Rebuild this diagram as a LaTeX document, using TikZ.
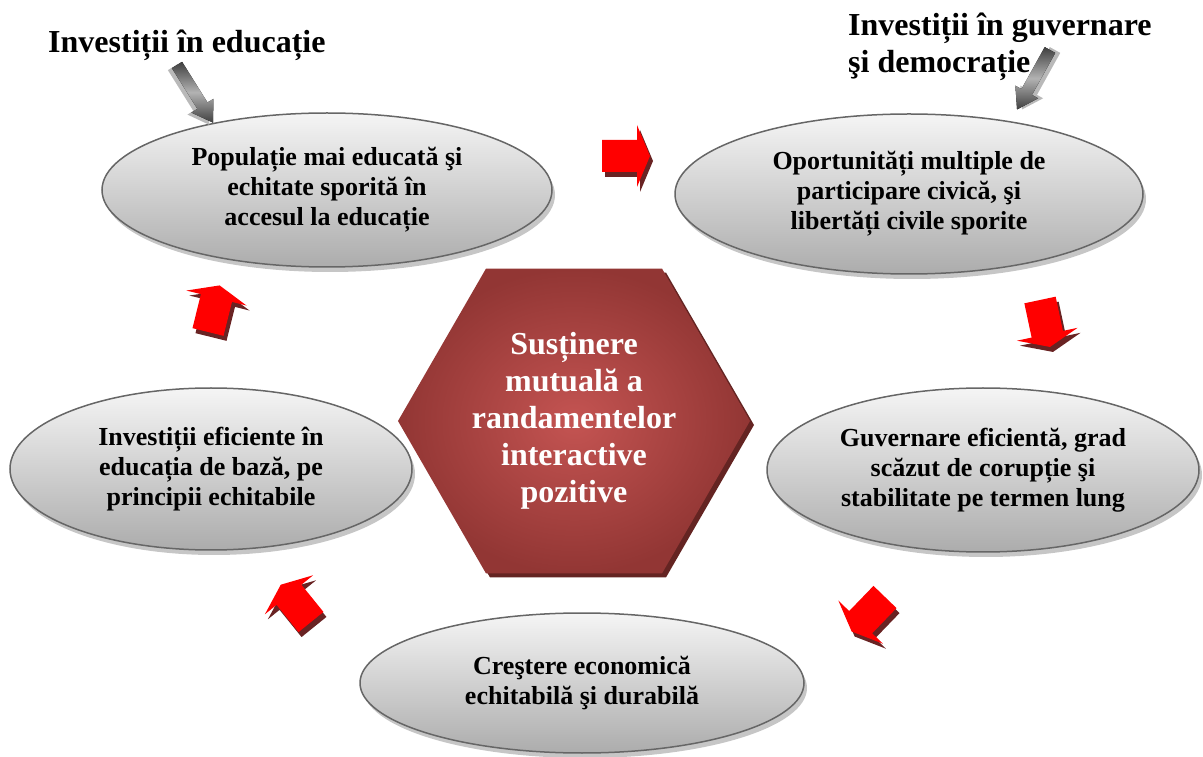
\documentclass[tikz,border=0pt]{standalone}
\usepackage{fontspec}
\setmainfont{Liberation Serif}
\usetikzlibrary{positioning,shapes,shapes.geometric,shadows}

\definecolor{arrowred}{RGB}{255,0,0}
\definecolor{redshadow}{RGB}{105,35,35}
\definecolor{hexinner}{RGB}{196,84,82}
\definecolor{hexouter}{RGB}{146,54,52}
\definecolor{hexshadow}{RGB}{100,36,34}

\tikzset{
ovalnode/.style={ellipse, draw=black!60, line width=1.5pt, top color=gray!8, bottom color=gray!65,
                 inner sep=0pt, align=center, font=\fontsize{26}{30}\selectfont\bfseries,
                 drop shadow={shadow xshift=3pt, shadow yshift=-5pt, fill=gray!45, opacity=1}},
hexnode/.style={regular polygon, regular polygon sides=6, minimum size=352pt, inner sep=0pt,
                inner color=hexinner, outer color=hexouter, text=white, align=center,
                font=\fontsize{32}{37}\selectfont\bfseries,
                drop shadow={shadow xshift=4pt, shadow yshift=-4pt, fill=hexshadow, opacity=1}},
titlenode/.style={inner sep=0pt, align=left, anchor=west, font=\fontsize{32}{37}\selectfont\bfseries},
greyshade/.style={top color=black!75, bottom color=black!75, middle color=gray!60},
greyside/.style={fill=gray!55},
blockarrow/.pic={\fill[#1] (0,-16) -- (35,-16) -- (35,-31) -- (48,0) -- (35,31) -- (35,16) -- (0,16) -- cycle;},
greyarrow/.pic={\fill[#1] (0,-6) -- (48,-6) -- (48,-13) -- (68,0) -- (48,13) -- (48,6) -- (0,6) -- cycle;}
}

\begin{document}
\begin{tikzpicture}[x=1pt, y=1pt]
\useasboundingbox (0,0) rectangle (1203,756);

%Title nodes
\node[titlenode] (eduTitle) at (48,711) {Investiții în educație};
\node[titlenode] (govTitle) at (848,709) {Investiții în guvernare\\şi democrație};

%Central hexagon
\node[hexnode] (core) at (574,335) {Susținere\\mutuală a\\randamentelor\\interactive\\pozitive};

%Cycle nodes
\node[ovalnode, minimum width=450pt, minimum height=154pt] (educated) at (327,566) {Populație mai educată şi\\echitate sporită în\\accesul la educație};
\node[ovalnode, minimum width=468pt, minimum height=160pt] (civic) at (909,562) {Oportunități multiple de\\participare civică, şi\\libertăți civile sporite};
\node[ovalnode, minimum width=432pt, minimum height=164pt] (governance) at (983,286) {Guvernare eficientă, grad\\scăzut de corupție şi\\stabilitate pe termen lung};
\node[ovalnode, minimum width=444pt, minimum height=140pt] (growth) at (582,73) {Creştere economică\\echitabilă şi durabilă};
\node[ovalnode, minimum width=402pt, minimum height=162pt] (investment) at (211,287) {Investiții eficiente în\\educația de bază, pe\\principii echitabile};

%Input arrows
\coordinate (eduTail) at (177,691);
\coordinate (govTail) at (1050,706);
\pic[shift={(-4,-2)}, rotate=-58] at (eduTail) {greyarrow=greyside};
\pic[rotate=-58] at (eduTail) {greyarrow=greyshade};
\pic[shift={(5,0)}, rotate=-119] at (govTail) {greyarrow=greyside};
\pic[rotate=-119] at (govTail) {greyarrow=greyshade};

%Cycle arrows
\pic[shift={(3,-5)}, rotate=0] at (602,600) {blockarrow=redshadow};
\pic[rotate=0] at (602,600) {blockarrow=arrowred};
\pic[shift={(3,-5)}, rotate=-78] at (1040,456) {blockarrow=redshadow};
\pic[rotate=-78] at (1040,456) {blockarrow=arrowred};
\pic[shift={(3,-5)}, rotate=-134] at (885,159) {blockarrow=redshadow};
\pic[rotate=-134] at (885,159) {blockarrow=arrowred};
\pic[shift={(3,-5)}, rotate=129] at (311,134) {blockarrow=redshadow};
\pic[rotate=129] at (311,134) {blockarrow=arrowred};
\pic[shift={(3,-5)}, rotate=76] at (208,424) {blockarrow=redshadow};
\pic[rotate=76] at (208,424) {blockarrow=arrowred};

\end{tikzpicture}
\end{document}
